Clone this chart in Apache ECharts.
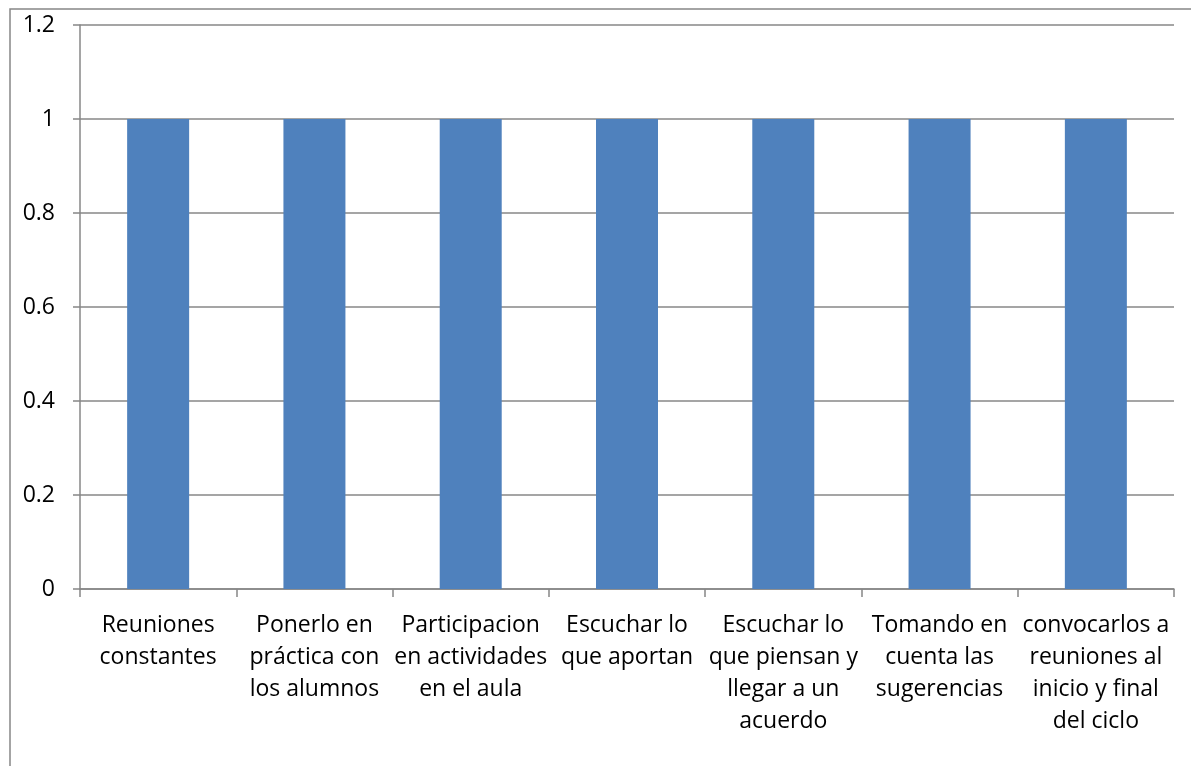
<!DOCTYPE html>
<html>
<head>
<meta charset="utf-8">
<script src="https://cdn.jsdelivr.net/npm/echarts@6/dist/echarts.min.js"></script>
<style>
  html, body { margin: 0; padding: 0; background: #fff; }
  #Bar { width: 1191px; height: 766px; }
</style>
</head>
<body>
<div id="Bar"></div>
<script>
// categorias (con saltos de linea como en la imagen)
var categorias = [
  "Reuniones\nconstantes",
  "Ponerlo en\npráctica con\nlos alumnos",
  "Participacion\nen actividades\nen el aula",
  "Escuchar lo\nque aportan",
  "Escuchar lo\nque piensan y\nllegar a un\nacuerdo",
  "Tomando en\ncuenta las\nsugerencias",
  "convocarlos a\nreuniones al\ninicio y final\ndel ciclo"
]
var valores = [1, 1, 1, 1, 1, 1, 1]
var ejeY = { min: 0, max: 1.2, interval: 0.2 }

var fuente = "'Open Sans', 'Noto Sans', sans-serif"
var gris = "#878787"

var Echarts = echarts.init(document.getElementById("Bar"))
Echarts.setOption({
  animation: false,
  //borde exterior
  graphic: [{
    type: "rect",
    shape: { x: 10, y: 9, width: 1300, height: 900 },
    style: { fill: "none", stroke: gris, lineWidth: 1.5 },
    silent: true
  }],
  grid: { left: 80, right: 17, top: 25, bottom: 177 },
  xAxis: {
    type: "category",
    data: categorias,
    axisLine: { lineStyle: { color: gris, width: 1.5 } },
    axisTick: { show: true, length: 8, alignWithLabel: false, lineStyle: { color: gris, width: 1.5 } },
    axisLabel: {
      interval: 0,
      margin: 20,
      color: "#000",
      fontSize: 23,
      lineHeight: 32,
      fontFamily: fuente
    }
  },
  yAxis: {
    type: "value",
    min: ejeY.min,
    max: ejeY.max,
    interval: ejeY.interval,
    axisLine: { show: true, lineStyle: { color: gris, width: 1.5 } },
    axisTick: { show: true, length: 7, lineStyle: { color: gris, width: 1.5 } },
    splitLine: { lineStyle: { color: gris, width: 1.5 } },
    axisLabel: {
      margin: 25,
      color: "#000",
      fontSize: 23,
      fontFamily: fuente,
      formatter: function (v) { return String(Math.round(v * 10) / 10) }
    }
  },
  series: [{
    type: "bar",
    data: valores,
    barWidth: 62,
    itemStyle: { color: "#4f81bd" }
  }]
})
</script>
</body>
</html>
